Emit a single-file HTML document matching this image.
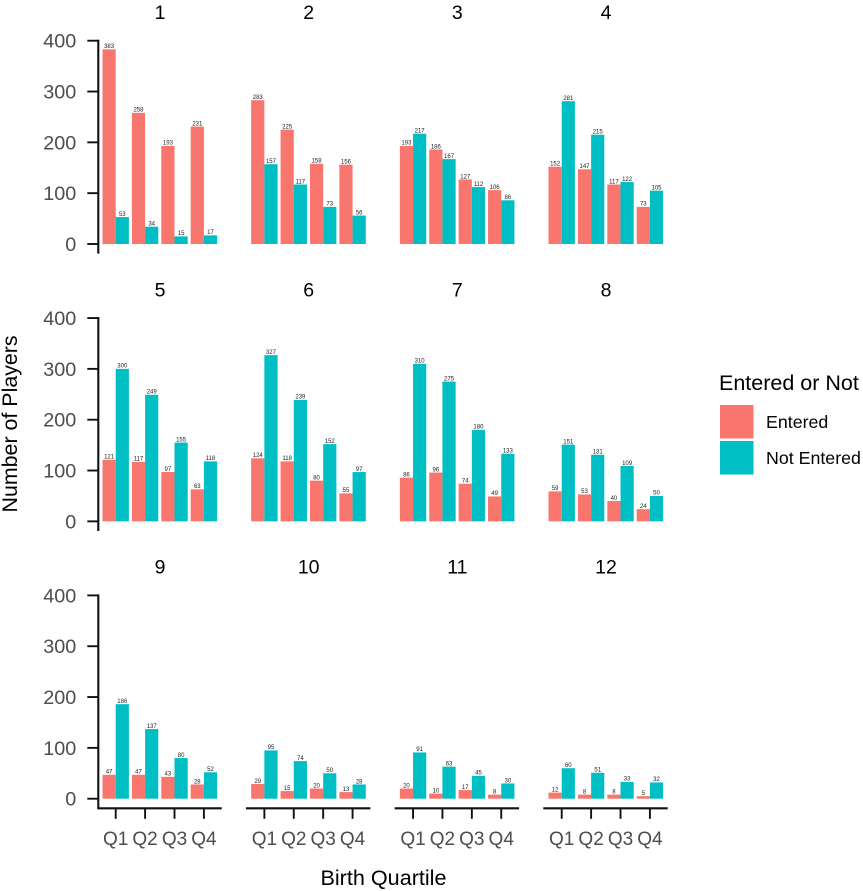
<!DOCTYPE html>
<html lang="en">
<head>
<meta charset="utf-8">
<title>Players by birth quartile and month</title>
<style>
html,body{margin:0;padding:0;background:#fff;}
svg{display:block;font-family:"Liberation Sans",Arial,sans-serif;}
</style>
</head>
<body>
<svg id="chart" width="863" height="891" viewBox="0 0 863 891" xmlns="http://www.w3.org/2000/svg">
  <rect x="0" y="0" width="863" height="891" fill="#ffffff"/>
  <text transform="translate(17,512.5) rotate(-90)" font-size="21.4" fill="#000">Number of Players</text>
  <text x="383.5" y="885" text-anchor="middle" font-size="21.6" fill="#000">Birth Quartile</text>
  <g>
    <text x="719" y="390" font-size="21.5" fill="#000">Entered or Not</text>
    <rect x="720" y="405" width="33.5" height="33.5" fill="#F8766D"/>
    <rect x="720" y="441" width="33.5" height="33.5" fill="#00BFC4"/>
    <text x="766" y="428" font-size="17.8" fill="#000">Entered</text>
    <text x="766" y="464" font-size="17.8" fill="#000">Not Entered</text>
  </g>
</svg>
<script>
const months = ['1','2','3','4','5','6','7','8','9','10','11','12'];
const quartiles = ['Q1','Q2','Q3','Q4'];
const yTicks = [0,100,200,300,400];
const entered = [
  [383,258,193,231],[283,225,158,156],[193,186,127,106],[152,147,117,73],
  [121,117,97,63],[124,118,80,55],[86,96,74,49],[59,53,40,24],
  [47,47,43,28],[29,15,20,13],[20,10,17,8],[12,8,8,5]
];
const notEntered = [
  [53,34,15,17],[157,117,73,56],[217,167,112,86],[281,215,122,105],
  [300,249,155,118],[327,239,152,97],[310,275,180,133],[151,131,109,50],
  [186,137,80,52],[95,74,50,28],[91,63,45,30],[60,51,33,32]
];

const svg = document.getElementById('chart');
const NS = 'http://www.w3.org/2000/svg';
const COLS = 4;
const PANEL_LEFT = 98.3, PANEL_STEP = 148.67, PANEL_WIDTH = 123.4;
const ROW_ZERO = 244, ROW_STEP = 277.35, PX_PER_UNIT = 203.3 / 400;
const CAT_OFFSET = 17.4, CAT_STEP = 29.4, BAR_WIDTH = 13.2;

function panelX(col) { return PANEL_LEFT + col * PANEL_STEP; }
function catX(col, q) { return panelX(col) + CAT_OFFSET + q * CAT_STEP; }
function rowZero(row) { return ROW_ZERO + row * ROW_STEP; }
function valY(row, v) { return rowZero(row) - v * PX_PER_UNIT; }

function make(tag, attrs, parent) {
  const el = document.createElementNS(NS, tag);
  for (const k in attrs) el.setAttribute(k, attrs[k]);
  parent.appendChild(el);
  return el;
}
function axisLine(x1, y1, x2, y2, w, parent) {
  return make('line', {x1: x1, y1: y1, x2: x2, y2: y2, stroke: '#111', 'stroke-width': w}, parent);
}

months.forEach(function (month, i) {
  const col = i % COLS;
  const row = Math.floor(i / COLS);
  const panel = make('g', {}, svg);
  
  

  const strip = make('text', {x: panelX(col) + PANEL_WIDTH / 2, y: rowZero(row) - 225, 'text-anchor': 'middle', 'font-size': 19.5, fill: '#000'}, panel);
  
  
  strip.textContent = month;

  quartiles.forEach(function (q, j) {
    const cx = catX(col, j);
    const series = [entered[i][j], notEntered[i][j]];
    series.forEach(function (v, s) {
      const x = s === 0 ? cx - BAR_WIDTH : cx;
      const bar = make('rect', {x: x, y: valY(row, v), width: BAR_WIDTH, height: v * PX_PER_UNIT, fill: s === 0 ? '#F8766D' : '#00BFC4'}, panel);
      
      

      const lab = make('text', {x: x + BAR_WIDTH / 2, y: valY(row, v) - 1.2, 'text-anchor': 'middle', 'font-size': 6, fill: '#222'}, panel);
      
      
      lab.textContent = v;
    });
  });

  if (col === 0) {
    const yAxis = axisLine(panelX(0), valY(row, 400) - 1, panelX(0), rowZero(row) + 9.6, 2.1, panel);
    
    
    yTicks.forEach(function (t) {
      const tick = axisLine(panelX(0) - 11, valY(row, t), panelX(0), valY(row, t), 1.9, panel);
      
      
      const tl = make('text', {x: 76.3, y: valY(row, t) + 7, 'text-anchor': 'end', 'font-size': 19.8, fill: '#4d4d4d'}, panel);
      
      
      tl.textContent = t;
    });
  }

  if (row === 2) {
    const by = rowZero(row) + 9.6;
    const xAxis = axisLine(panelX(col) - 1, by, panelX(col) + PANEL_WIDTH, by, 2.1, panel);
    
    
    quartiles.forEach(function (q, j) {
      const cx = catX(col, j);
      const tick = axisLine(cx, by, cx, by + 10.5, 1.9, panel);
      
      
      const tl = make('text', {x: cx, y: 845, 'text-anchor': 'middle', 'font-size': 19, fill: '#4d4d4d'}, panel);
      
      
      tl.textContent = q;
    });
  }
});
</script>
</body>
</html>
